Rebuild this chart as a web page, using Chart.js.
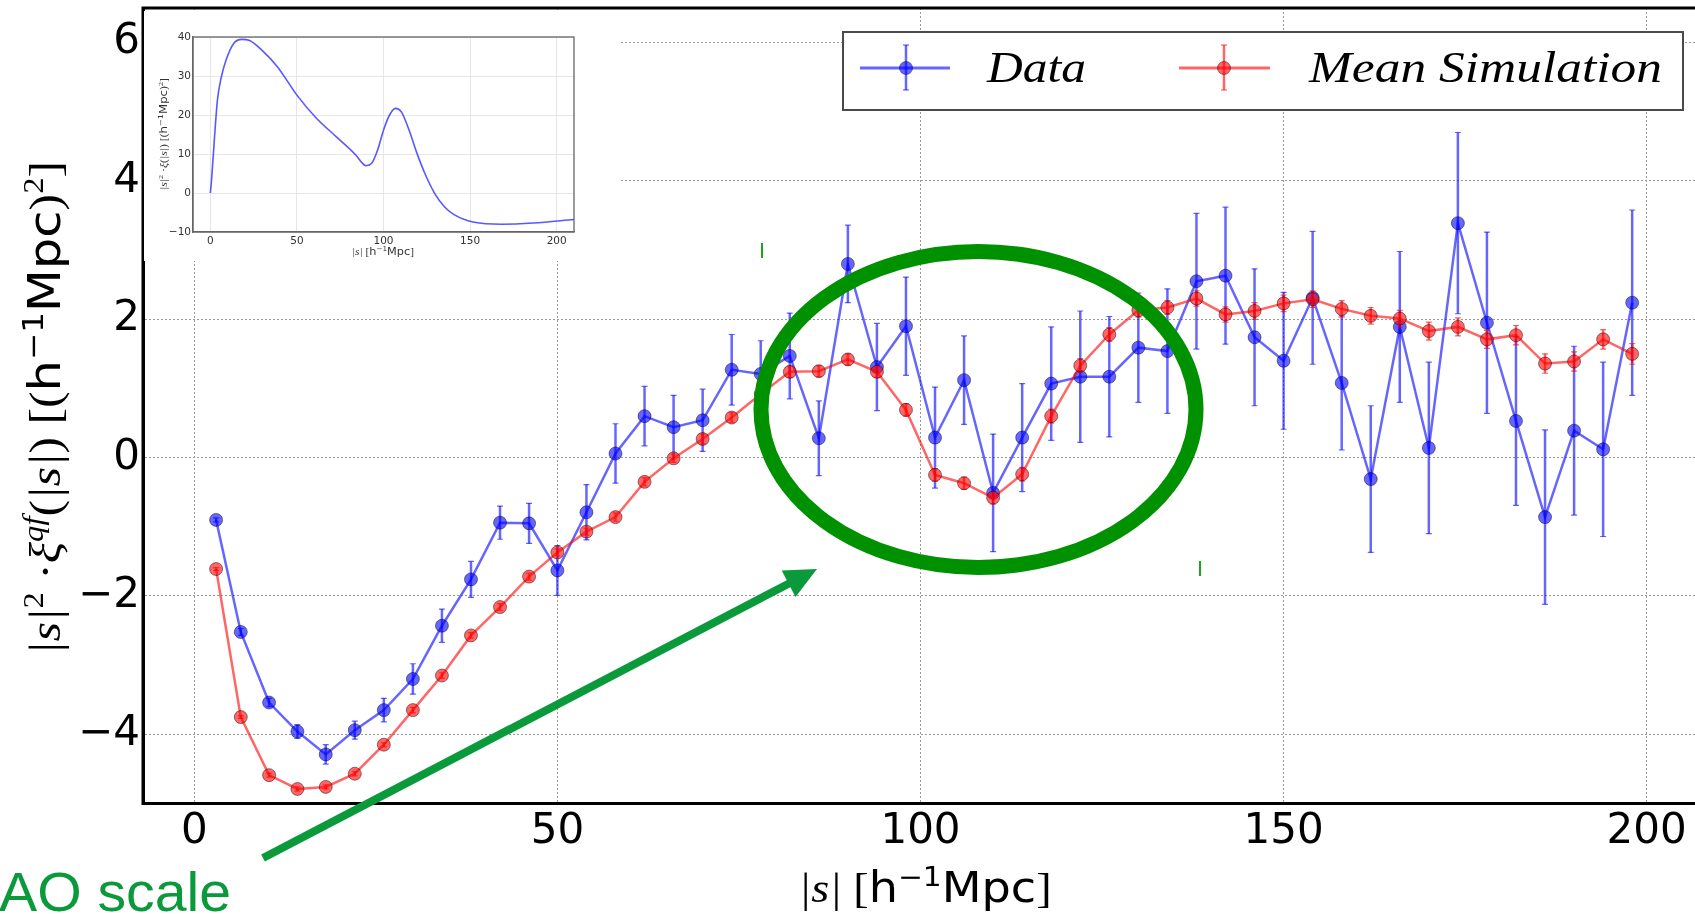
<!DOCTYPE html>
<html>
<head>
<meta charset="utf-8">
<title>Data vs Mean Simulation</title>
<script src="https://cdn.jsdelivr.net/npm/chart.js@4.4.1/dist/chart.umd.min.js"></script>
<style>
html,body{margin:0;padding:0;background:#fff;overflow:hidden;width:1695px;height:914px;}
#main{position:absolute;left:0;top:0;}
#inset{position:absolute;left:144px;top:11px;background:#fff;}
#legend{position:absolute;left:842px;top:31px;width:838px;height:76px;border:2px solid #4a4a4a;background:#fff;}
#overlay{position:absolute;left:0;top:0;}
</style>
</head>
<body>
<canvas id="main" width="1705" height="914"></canvas>
<canvas id="inset" width="477" height="250"></canvas>
<div id="legend"></div>
<svg id="overlay" width="1695" height="914" xmlns="http://www.w3.org/2000/svg">
  <!-- legend symbols -->
  <line x1="860" y1="68" x2="950" y2="68" stroke="rgba(0,0,255,0.6)" stroke-width="3"/>
  <line x1="906" y1="45" x2="906" y2="90" stroke="rgba(0,0,255,0.6)" stroke-width="2.5"/>
  <line x1="903" y1="45" x2="909" y2="45" stroke="rgba(0,0,255,0.6)" stroke-width="1.2"/>
  <line x1="903" y1="90" x2="909" y2="90" stroke="rgba(0,0,255,0.6)" stroke-width="1.2"/>
  <circle cx="906" cy="68" r="6.5" fill="rgba(0,0,255,0.6)" stroke="rgba(0,0,0,0.45)" stroke-width="1"/>
  <line x1="1179" y1="68" x2="1270" y2="68" stroke="rgba(255,0,0,0.6)" stroke-width="3"/>
  <line x1="1224" y1="45" x2="1224" y2="90" stroke="rgba(255,0,0,0.6)" stroke-width="2.5"/>
  <line x1="1221" y1="45" x2="1227" y2="45" stroke="rgba(255,0,0,0.6)" stroke-width="1.2"/>
  <line x1="1221" y1="90" x2="1227" y2="90" stroke="rgba(255,0,0,0.6)" stroke-width="1.2"/>
  <circle cx="1224" cy="68" r="6.5" fill="rgba(255,0,0,0.6)" stroke="rgba(0,0,0,0.45)" stroke-width="1"/>
  <text x="987" y="82" font-family="Liberation Serif" font-style="italic" font-size="44" textLength="99" lengthAdjust="spacingAndGlyphs">Data</text>
  <text x="1309" y="82" font-family="Liberation Serif" font-style="italic" font-size="44" textLength="353" lengthAdjust="spacingAndGlyphs">Mean Simulation</text>

  <!-- main axis titles -->
  <text x="925" y="902" text-anchor="middle" font-size="42" textLength="253" lengthAdjust="spacingAndGlyphs"><tspan font-family="Liberation Serif" font-style="italic">|s|</tspan><tspan font-family="Liberation Serif"> [</tspan><tspan font-family="DejaVu Sans">h</tspan><tspan font-family="DejaVu Sans" font-size="27" dy="-16">−1</tspan><tspan font-family="DejaVu Sans" dy="16">Mpc</tspan><tspan font-family="Liberation Serif">]</tspan></text>
  <text transform="translate(60,408) rotate(-90)" text-anchor="middle" font-size="44" textLength="494" lengthAdjust="spacingAndGlyphs"><tspan font-family="Liberation Serif" font-style="italic">|s|</tspan><tspan font-family="Liberation Serif" font-size="29" dy="-17">2</tspan><tspan font-family="Liberation Serif" dy="17"> ·</tspan><tspan font-family="Liberation Serif" font-style="italic">ξ</tspan><tspan font-family="Liberation Serif" font-style="italic" font-size="29" dy="-17">qf</tspan><tspan font-family="Liberation Serif" dy="17">(</tspan><tspan font-family="Liberation Serif" font-style="italic">|s|</tspan><tspan font-family="Liberation Serif">) [(</tspan><tspan font-family="DejaVu Sans">h</tspan><tspan font-family="DejaVu Sans" font-size="29" dy="-17">−1</tspan><tspan font-family="DejaVu Sans" dy="17">Mpc</tspan><tspan font-family="Liberation Serif">)</tspan><tspan font-family="Liberation Serif" font-size="29" dy="-17">2</tspan><tspan font-family="Liberation Serif" dy="17">]</tspan></text>

  <!-- inset axis titles -->
  <text x="383" y="255" text-anchor="middle" font-size="11" fill="#333" textLength="62" lengthAdjust="spacingAndGlyphs"><tspan font-family="Liberation Serif" font-style="italic">|s|</tspan><tspan font-family="Liberation Serif"> [</tspan><tspan font-family="DejaVu Sans">h</tspan><tspan font-family="DejaVu Sans" font-size="7" dy="-4">−1</tspan><tspan font-family="DejaVu Sans" dy="4">Mpc</tspan><tspan font-family="Liberation Serif">]</tspan></text>
  <text transform="translate(167,134) rotate(-90)" text-anchor="middle" font-size="10" fill="#333" textLength="112" lengthAdjust="spacingAndGlyphs"><tspan font-family="Liberation Serif" font-style="italic">|s|</tspan><tspan font-family="Liberation Serif" font-size="7" dy="-4">2</tspan><tspan font-family="Liberation Serif" dy="4"> ·</tspan><tspan font-family="Liberation Serif" font-style="italic">ξ</tspan><tspan font-family="Liberation Serif">(</tspan><tspan font-family="Liberation Serif" font-style="italic">|s|</tspan><tspan font-family="Liberation Serif">) [(</tspan><tspan font-family="DejaVu Sans">h</tspan><tspan font-family="DejaVu Sans" font-size="7" dy="-4">−1</tspan><tspan font-family="DejaVu Sans" dy="4">Mpc</tspan><tspan font-family="Liberation Serif">)</tspan><tspan font-family="Liberation Serif" font-size="7" dy="-4">2</tspan><tspan font-family="Liberation Serif" dy="4">]</tspan></text>

  <!-- annotations -->
  <ellipse cx="978.5" cy="409.5" rx="217.5" ry="158" fill="none" stroke="#009100" stroke-width="15"/>
  <line x1="263" y1="858" x2="790" y2="583" stroke="#0a9a3c" stroke-width="8"/>
  <polygon points="817,569 795.5,597.1 781.7,570.5" fill="#0a9a3c"/>
  <line x1="762" y1="243" x2="762" y2="258" stroke="#1aa51a" stroke-width="2"/>
  <line x1="1200" y1="561" x2="1200" y2="576" stroke="#1aa51a" stroke-width="2"/>
  <text x="-1" y="911" font-family="Liberation Sans" font-size="55" fill="#0a9a3c" textLength="232" lengthAdjust="spacingAndGlyphs">AO scale</text>
</svg>

<script>
// ---------- main chart data ----------
const sValues = [3.0,6.4,10.3,14.2,18.1,22.1,26.1,30.1,34.1,38.1,42.1,46.1,50,54,58,62,66,70,74,78,82,86,90,94,98,102,106,110,114,118,122,126,130,134,138,142,146,150,154,158,162,166,170,174,178,182,186,190,194,198];
const dataValues = [-0.90,-2.52,-3.54,-3.96,-4.29,-3.94,-3.65,-3.20,-2.43,-1.76,-0.94,-0.95,-1.63,-0.79,0.06,0.60,0.44,0.54,1.27,1.21,1.47,0.28,2.80,1.31,1.90,0.29,1.12,-0.51,0.29,1.07,1.17,1.17,1.59,1.54,2.55,2.63,1.74,1.40,2.31,1.08,-0.31,1.89,0.14,3.39,1.95,0.53,-0.86,0.39,0.12,2.24];
const dataErrors = [0.03,0.05,0.06,0.10,0.14,0.13,0.17,0.22,0.24,0.26,0.24,0.29,0.36,0.40,0.43,0.43,0.46,0.45,0.51,0.48,0.62,0.54,0.56,0.63,0.71,0.73,0.64,0.85,0.78,0.82,0.95,0.87,0.79,0.90,0.98,0.99,0.99,0.99,0.96,0.97,1.06,1.09,1.24,1.31,1.31,1.22,1.26,1.22,1.26,1.34];
const simValues = [-1.61,-3.75,-4.59,-4.79,-4.76,-4.57,-4.15,-3.65,-3.15,-2.57,-2.16,-1.72,-1.37,-1.07,-0.86,-0.35,-0.01,0.27,0.58,0.92,1.24,1.25,1.42,1.24,0.69,-0.25,-0.37,-0.58,-0.24,0.60,1.33,1.78,2.13,2.17,2.30,2.07,2.12,2.23,2.29,2.15,2.05,2.01,1.83,1.89,1.71,1.77,1.36,1.39,1.71,1.50];
const simErrors = [0.02,0.02,0.03,0.03,0.03,0.03,0.03,0.04,0.04,0.04,0.05,0.05,0.05,0.05,0.06,0.06,0.06,0.07,0.07,0.07,0.08,0.08,0.08,0.08,0.09,0.09,0.09,0.09,0.10,0.10,0.10,0.10,0.10,0.10,0.11,0.11,0.12,0.12,0.12,0.12,0.12,0.12,0.13,0.13,0.13,0.14,0.14,0.14,0.14,0.15];
const xTickValues = [0,50,100,150,200];
const yTickValues = [-4,-2,0,2,4,6];

// ---------- inset data ----------
const insetS = [0,0.7,2.3,4.1,6.4,9.1,13.6,18.2,22.7,29.6,38.7,50,61.4,72.8,84.1,87.5,89.8,93.2,96.6,100,103.5,106.9,110.3,114.8,119.4,123.9,129.6,135.3,141,152.4,168.3,186.5,210];
const insetValues = [0,3.3,13.5,23.8,29.8,34.1,38.4,39.4,39.1,36.7,32.4,25.1,19.1,14.4,9.7,7.8,7.0,7.6,11.0,16.1,20.0,21.7,20.8,16.1,10.1,5.0,-0.15,-3.6,-5.6,-7.5,-8.0,-7.7,-6.8];
const insetXTicks = [0,50,100,150,200];
const insetYTicks = [-10,0,10,20,30,40];

// pixel anchors of the x axis (layout only): where 0 and 200 fall on the page
const X_AXIS_PX0 = 194.3, X_AXIS_PX200 = 1646.7;

const fmt = v => (v < 0 ? '\u2212' + Math.abs(v) : String(v));

const errorBarPlugin = {
  id: 'errorBars',
  beforeDatasetDraw(chart, args) {
    const ds = chart.data.datasets[args.index];
    if (!ds.errors) return;
    const {ctx, chartArea: a} = chart;
    const xs = chart.scales.x, ys = chart.scales.y;
    ctx.save();
    ctx.beginPath(); ctx.rect(a.left, a.top, a.right - a.left, a.bottom - a.top); ctx.clip();
    ctx.strokeStyle = ds.borderColor;
    ds.data.forEach((p, i) => {
      const e = ds.errors[i];
      const px = xs.getPixelForValue(p.x);
      const y1 = ys.getPixelForValue(p.y - e), y2 = ys.getPixelForValue(p.y + e);
      ctx.lineWidth = 2.5;
      ctx.beginPath(); ctx.moveTo(px, y1); ctx.lineTo(px, y2); ctx.stroke();
      ctx.lineWidth = 1.2;
      ctx.beginPath();
      ctx.moveTo(px - 3, y1); ctx.lineTo(px + 3, y1);
      ctx.moveTo(px - 3, y2); ctx.lineTo(px + 3, y2);
      ctx.stroke();
    });
    ctx.restore();
  }
};

const framePlugin = {
  id: 'frame',
  afterDraw(chart, args, opts) {
    const {ctx, chartArea: a} = chart;
    ctx.save();
    ctx.strokeStyle = opts.color || '#000';
    ctx.lineWidth = opts.width || 1;
    ctx.strokeRect(a.left, a.top, a.right - a.left, a.bottom - a.top);
    ctx.restore();
  }
};

const toPts = (xs, ys) => xs.map((x, i) => ({x: x, y: ys[i]}));

const mainChart = new Chart(document.getElementById('main'), {
  type: 'line',
  data: {
    datasets: [
      {
        label: 'Data',
        data: toPts(sValues, dataValues),
        errors: dataErrors,
        borderColor: 'rgba(0,0,255,0.6)',
        backgroundColor: 'rgba(0,0,255,0.6)',
        pointBackgroundColor: 'rgba(0,0,255,0.6)',
        pointBorderColor: 'rgba(0,0,0,0.45)',
        pointBorderWidth: 1,
        pointRadius: 6.5,
        borderWidth: 2.5,
        tension: 0,
        fill: false,
        order: 2
      },
      {
        label: 'Mean Simulation',
        data: toPts(sValues, simValues),
        errors: simErrors,
        borderColor: 'rgba(255,0,0,0.6)',
        backgroundColor: 'rgba(255,0,0,0.6)',
        pointBackgroundColor: 'rgba(255,0,0,0.6)',
        pointBorderColor: 'rgba(0,0,0,0.45)',
        pointBorderWidth: 1,
        pointRadius: 6.5,
        borderWidth: 2.5,
        tension: 0,
        fill: false,
        order: 1
      }
    ]
  },
  options: {
    responsive: false,
    animation: false,
    events: [],
    layout: {padding: {top: 8, left: 0, right: 0, bottom: 0}},
    plugins: {legend: {display: false}, tooltip: {enabled: false}, frame: {color: '#000', width: 3}},
    scales: {
      x: {
        type: 'linear', min: -7.06, max: 208,
        afterBuildTicks: s => { s.ticks = xTickValues.map(v => ({value: v})); },
        afterFit: s => { s.height = 110.5; s.paddingLeft = 0; s.paddingRight = 0; },
        grid: {color: '#9a9a9a', lineWidth: 1, drawTicks: false},
        border: {display: true, color: '#000', width: 3, dash: [2, 2]},
        ticks: {font: {family: 'DejaVu Sans', size: 42}, color: '#000', padding: 3, maxRotation: 0, callback: v => fmt(v)}
      },
      y: {
        type: 'linear', min: -5, max: 6.5,
        afterBuildTicks: s => { s.ticks = yTickValues.map(v => ({value: v})); },
        afterFit: s => { s.width = 143; s.paddingTop = 0; s.paddingBottom = 0; },
        grid: {color: '#9a9a9a', lineWidth: 1, drawTicks: false},
        border: {display: true, color: '#000', width: 3, dash: [2, 2]},
        ticks: {font: {family: 'DejaVu Sans', size: 42}, color: '#000', padding: 3, callback: v => fmt(v)}
      }
    }
  },
  plugins: [errorBarPlugin, framePlugin]
});

// fit the x range to the real plot area so that 0 and 200 land where they do in the figure
(function calibrateX() {
  const a = mainChart.chartArea;
  const unit = (X_AXIS_PX200 - X_AXIS_PX0) / 200;
  mainChart.options.scales.x.min = (a.left - X_AXIS_PX0) / unit;
  mainChart.options.scales.x.max = (a.right - X_AXIS_PX0) / unit;
  mainChart.update('none');
})();

new Chart(document.getElementById('inset'), {
  type: 'line',
  data: {
    datasets: [{
      label: 'model',
      data: toPts(insetS, insetValues),
      borderColor: 'rgba(70,70,255,0.9)',
      borderWidth: 1.6,
      pointRadius: 0,
      cubicInterpolationMode: 'monotone',
      fill: false
    }]
  },
  options: {
    responsive: false,
    animation: false,
    events: [],
    layout: {padding: {top: 26, right: 47, left: 0, bottom: 0}},
    plugins: {legend: {display: false}, tooltip: {enabled: false}, frame: {color: '#666', width: 1.3}},
    scales: {
      x: {
        type: 'linear', min: -10, max: 210,
        afterBuildTicks: s => { s.ticks = insetXTicks.map(v => ({value: v})); },
        afterFit: s => { s.height = 29; s.paddingLeft = 0; s.paddingRight = 0; },
        grid: {color: '#e6e6e6', lineWidth: 1, drawTicks: false},
        border: {display: true, color: '#666', width: 1.3},
        ticks: {font: {family: 'DejaVu Sans', size: 10.5}, color: '#333', padding: 3, maxRotation: 0, callback: v => fmt(v)}
      },
      y: {
        type: 'linear', min: -10, max: 40,
        afterBuildTicks: s => { s.ticks = insetYTicks.map(v => ({value: v})); },
        afterFit: s => { s.width = 49; s.paddingTop = 0; s.paddingBottom = 0; },
        grid: {color: '#e6e6e6', lineWidth: 1, drawTicks: false},
        border: {display: true, color: '#666', width: 1.3},
        ticks: {font: {family: 'DejaVu Sans', size: 10.5}, color: '#333', padding: 2, callback: v => fmt(v)}
      }
    }
  },
  plugins: [framePlugin]
});
</script>
</body>
</html>
